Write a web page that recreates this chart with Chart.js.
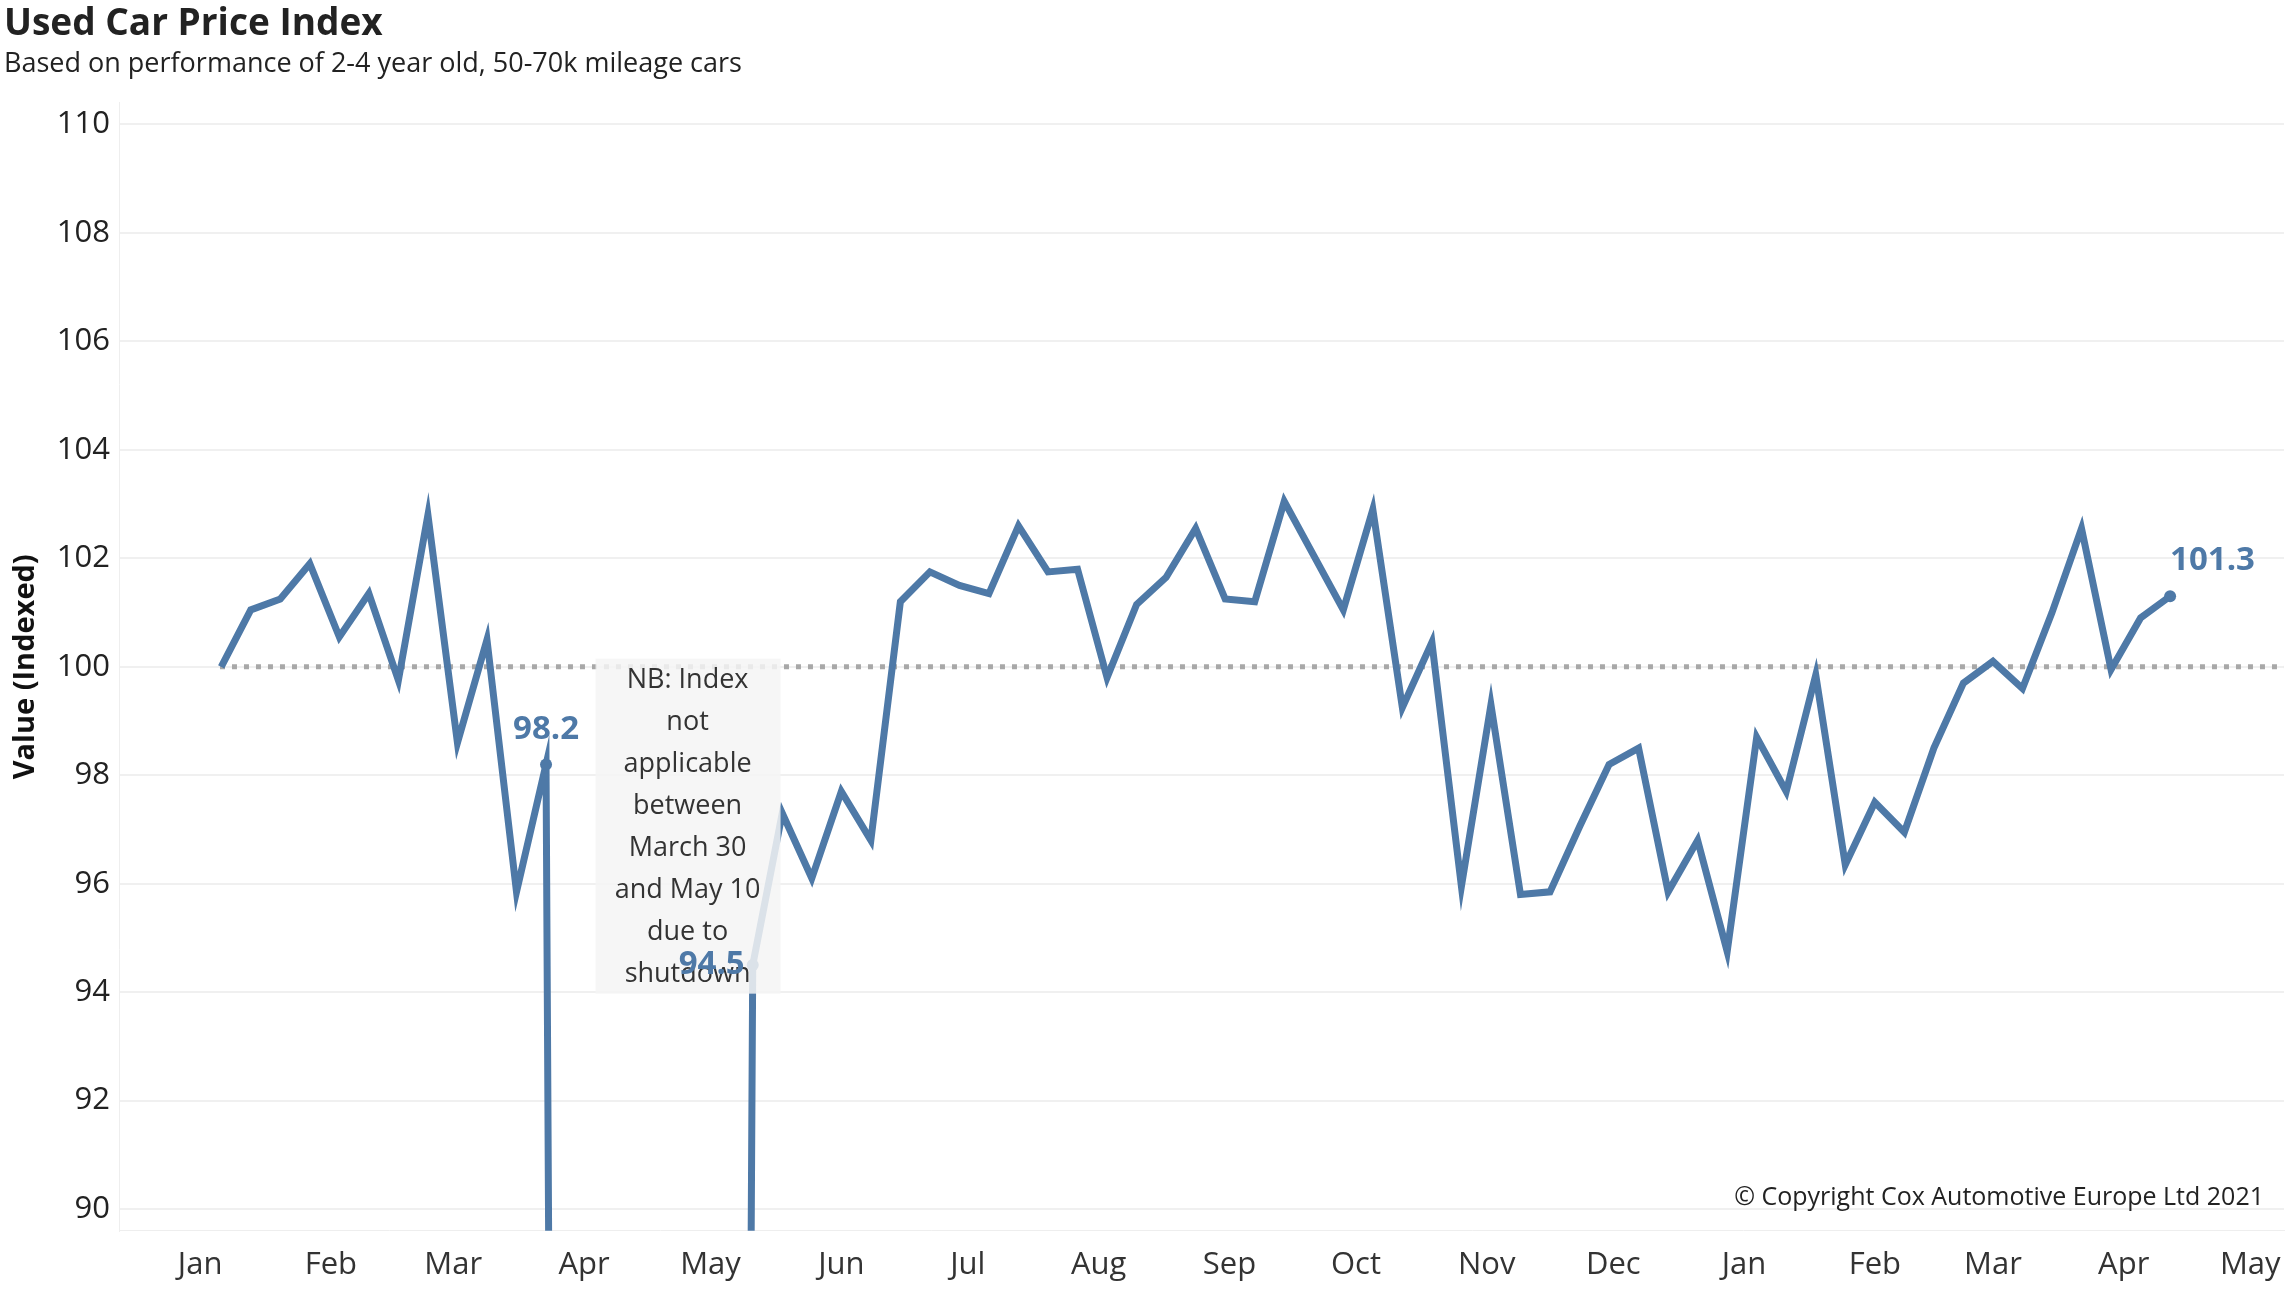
<!DOCTYPE html>
<html>
<head>
<meta charset="utf-8">
<script src="https://cdn.jsdelivr.net/npm/chart.js@4"></script>
<style>
  body { margin: 0; background: #fff; }
  #wrap { width: 2290px; height: 1294px; position: relative; }
</style>
</head>
<body>
<div id="wrap"><canvas id="chart"></canvas></div>
<script>
// weekly index values, Jan 6 2020 onwards; 0 = shutdown weeks (no index)
const indexValues = [
  100.0, 101.05, 101.25, 101.9, 100.55, 101.35, 99.75, 102.8, 98.6, 100.5, 95.85, 98.2,
  0, 0, 0, 0, 0, 0,
  94.5, 97.3, 96.1, 97.7, 96.8, 101.2, 101.75, 101.5, 101.35, 102.6, 101.75, 101.8,
  99.8, 101.15, 101.65, 102.55, 101.25, 101.2, 103.05, 102.05, 101.05, 102.9, 99.25, 100.45,
  95.95, 99.3, 95.8, 95.85, 97.05, 98.2, 98.5, 95.85, 96.8, 94.75, 98.7, 97.7,
  99.85, 96.35, 97.5, 96.95, 98.5, 99.7, 100.1, 99.6, 101.0, 102.55, 99.95, 100.9, 101.3
]
const firstWeek = '2020-01-06'
const monthTicks = ['2020-01-01','2020-02-01','2020-03-01','2020-04-01','2020-05-01','2020-06-01',
  '2020-07-01','2020-08-01','2020-09-01','2020-10-01','2020-11-01','2020-12-01',
  '2021-01-01','2021-02-01','2021-03-01','2021-04-01','2021-05-01']
const monthNames = ['Jan','Feb','Mar','Apr','May','Jun','Jul','Aug','Sep','Oct','Nov','Dec']
const yTicks = [90, 92, 94, 96, 98, 100, 102, 104, 106, 108, 110]
const labelled = { 11: '98.2', 18: '94.5', 66: '101.3' }

const DAY = 86400000
const origin = Date.UTC(2020, 0, 1)
const toDay = s => (Date.parse(s + 'T00:00:00Z') - origin) / DAY
const start = toDay(firstWeek)
const points = indexValues.map((v, i) => ({ x: start + i * 7, y: v }))

const blue = '#4e79a7'

const extras = {
  id: 'extras',
  beforeDatasetsDraw(chart) {
    const { ctx, chartArea, scales } = chart
    const y = scales.y.getPixelForValue(100)
    ctx.save()
    ctx.strokeStyle = '#a8a8a8'
    ctx.lineWidth = 5
    ctx.setLineDash([5, 7])
    ctx.beginPath()
    ctx.moveTo(chartArea.left + 100, y)
    ctx.lineTo(chartArea.right, y)
    ctx.stroke()
    ctx.restore()
  },
  afterDatasetsDraw(chart) {
    const { ctx, scales } = chart
    ctx.save()
    // shutdown note
    const bx = scales.x.getPixelForValue(start + 12 * 7) + 20
    const by = scales.y.getPixelForValue(100.15)
    ctx.fillStyle = 'rgba(245,245,245,0.85)'
    ctx.fillRect(bx, by, 185, 335)
    ctx.fillStyle = '#333'
    ctx.font = '27px "Open Sans", sans-serif'
    ctx.textAlign = 'center'
    ctx.textBaseline = 'top'
    const lines = ['NB: Index', 'not', 'applicable', 'between', 'March 30', 'and May 10', 'due to', 'shutdown']
    lines.forEach((t, i) => ctx.fillText(t, bx + 92, by + 8 + i * 42))
    // value labels
    ctx.fillStyle = blue
    ctx.font = 'bold 33px "Open Sans", sans-serif'
    ctx.textBaseline = 'middle'
    for (const k in labelled) {
      const p = points[k]
      const px = scales.x.getPixelForValue(p.x)
      const py = scales.y.getPixelForValue(p.y)
      if (k == 11) { ctx.textAlign = 'center'; ctx.fillText(labelled[k], px, py - 35) }
      if (k == 18) { ctx.textAlign = 'right'; ctx.fillText(labelled[k], px - 8, py) }
      if (k == 66) { ctx.textAlign = 'left'; ctx.fillText(labelled[k], px, py - 36) }
    }
    ctx.restore()
  }
}

new Chart(document.getElementById('chart'), {
  type: 'line',
  data: {
    datasets: [{
      data: points,
      borderColor: blue,
      borderWidth: 7,
      pointRadius: points.map((p, i) => labelled[i] ? 6 : 0),
      pointBackgroundColor: blue,
      pointBorderWidth: 0,
      tension: 0
    }]
  },
  options: {
    responsive: true,
    maintainAspectRatio: false,
    animation: false,
    layout: { padding: { top: 0, right: 3, bottom: 2, left: 4 } },
    plugins: {
      legend: { display: false },
      tooltip: { enabled: false },
      title: {
        display: true, text: 'Used Car Price Index', align: 'start',
        color: '#222', font: { family: '"Open Sans", sans-serif', size: 37 },
        padding: { top: 2, bottom: 2 }
      },
      subtitle: {
        display: true, text: 'Based on performance of 2-4 year old, 50-70k mileage cars', align: 'start',
        color: '#222', font: { family: '"Open Sans", sans-serif', size: 27 },
        padding: { bottom: 22 }
      }
    },
    scales: {
      x: {
        type: 'linear',
        min: toDay(monthTicks[0]) - 19,
        max: toDay(monthTicks[16]) + 8,
        afterBuildTicks: s => { s.ticks = monthTicks.map(m => ({ value: toDay(m) })) },
        ticks: {
          callback: v => monthNames[new Date(origin + v * DAY).getUTCMonth()],
          color: '#333', font: { family: '"Open Sans", sans-serif', size: 31 },
          maxRotation: 0, autoSkip: false, padding: 8
        },
        grid: { display: false },
        border: { color: '#eee' }
      },
      y: {
        min: 89.6, max: 110.4,
        afterBuildTicks: s => { s.ticks = yTicks.map(v => ({ value: v })) },
        ticks: { color: '#222', font: { family: '"Open Sans", sans-serif', size: 31 }, padding: 10 },
        grid: { color: '#f0f0f0', lineWidth: 2, drawTicks: false },
        border: { color: '#eee' },
        title: {
          display: true, text: 'Value (Indexed)', color: '#111',
          font: { family: '"Open Sans", sans-serif', size: 29, weight: 'bold' }
        }
      }
    }
  },
  plugins: [extras, {
    id: 'copyright',
    afterDraw(chart) {
      const { ctx, chartArea } = chart
      ctx.save()
      ctx.fillStyle = '#222'
      ctx.font = '25px "Open Sans", sans-serif'
      ctx.textAlign = 'right'
      ctx.textBaseline = 'bottom'
      ctx.fillText('\u00a9 Copyright Cox Automotive Europe Ltd 2021', chartArea.right - 20, chartArea.bottom - 20)
      ctx.restore()
    }
  }]
})
</script>
</body>
</html>
